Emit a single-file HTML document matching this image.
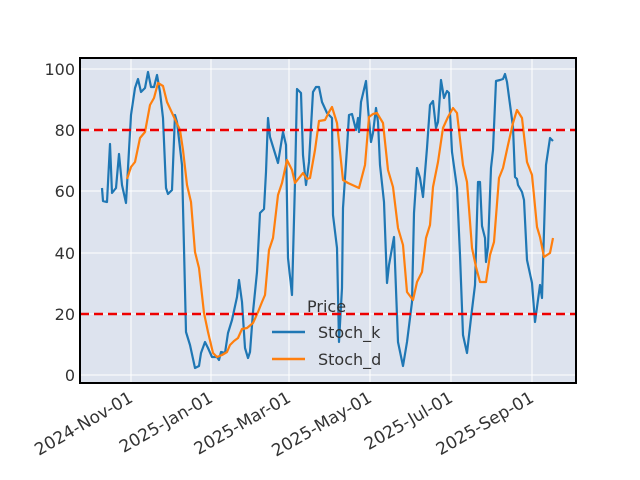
<!DOCTYPE html>
<html><head><meta charset="utf-8"><style>body{margin:0;background:#fff}svg{display:block}</style></head><body>
<svg width="640" height="480" xmlns="http://www.w3.org/2000/svg" font-family="DejaVu Sans, Liberation Sans, sans-serif">
<rect x="80" y="58" width="496" height="325" fill="#dde3ee"/>
<g stroke="#fff" stroke-width="1">
<line x1="80" x2="576" y1="375" y2="375"/><line x1="80" x2="576" y1="314" y2="314"/><line x1="80" x2="576" y1="253" y2="253"/><line x1="80" x2="576" y1="191" y2="191"/><line x1="80" x2="576" y1="130" y2="130"/><line x1="80" x2="576" y1="69" y2="69"/>
<line y1="58" y2="383" x1="131" x2="131"/><line y1="58" y2="383" x1="211" x2="211"/><line y1="58" y2="383" x1="289" x2="289"/><line y1="58" y2="383" x1="370" x2="370"/><line y1="58" y2="383" x1="451" x2="451"/><line y1="58" y2="383" x1="532" x2="532"/>
</g>
<polyline fill="none" stroke="#1f77b4" stroke-width="2.2" stroke-linejoin="round" points="102,188 103,201 107,202 110,144 112,193 116,188 119,154 122,185 126,203 131,115 135,88 138,79 141,92 145,88 148,72 151,87 154,87 157,75 160,92 163,118 166,188 168,194 172,190 175,115 177,122 182,165 186,332 190,345 195,368 199,366 201,353 205,342 208,348 212,357 217,357 219,360 221,352 225,353 228,333 232,320 237,297 239,280 242,302 245,348 248,358 250,352 253,312 257,272 260,213 264,209 266,172 268,118 270,137 278,163 283,132 286,145 288,258 292,295 295,182 297,89 301,93 303,155 306,185 309,162 313,92 316,87 319,87 322,102 327,113 332,118 333,215 337,248 339,342 342,288 343,208 347,148 349,115 352,114 356,130 358,118 359,132 361,102 366,81 368,108 371,142 373,133 376,108 378,122 380,165 384,202 387,283 389,265 394,237 398,342 403,366 407,342 412,302 414,213 417,168 420,178 423,197 427,148 430,105 433,101 436,128 438,122 441,80 444,98 447,91 449,93 452,152 457,188 460,255 463,335 467,353 471,318 475,285 478,182 480,182 482,226 485,238 486,262 488,247 491,168 493,150 496,81 500,80 503,79 505,74 507,82 513,127 515,177 517,179 518,185 522,192 524,200 527,260 532,283 535,322 540,285 542,298 546,165 550,138 553,141"/>
<polyline fill="none" stroke="#ff7f0e" stroke-width="2.2" stroke-linejoin="round" points="127,179 131,167 135,162 140,138 145,132 150,105 154,98 158,83 163,86 167,102 173,115 180,130 183,150 187,185 191,202 195,252 199,268 204,313 208,332 213,353 217,357 222,355 227,352 230,345 234,341 238,338 242,329 247,328 253,323 258,312 262,302 265,295 269,250 273,238 278,195 282,183 287,160 292,170 295,183 303,173 307,179 310,178 315,150 319,121 325,120 329,112 332,107 337,123 343,180 348,183 359,188 365,165 369,117 373,114 377,113 383,123 388,170 393,187 398,228 403,245 407,292 413,300 417,282 422,272 426,238 430,225 433,187 438,162 443,128 448,117 453,108 457,113 463,165 467,182 472,248 476,267 480,282 486,282 490,255 494,242 499,178 503,168 508,145 513,123 517,110 522,118 527,162 532,175 537,227 540,237 544,257 550,253 553,238"/>
<g stroke="#ee0000" stroke-width="2.5" stroke-dasharray="9,5"><line x1="80" x2="576" y1="130" y2="130"/><line x1="80" x2="576" y1="314" y2="314"/></g>
<rect x="80" y="58" width="496" height="325" fill="none" stroke="#000" stroke-width="2"/>
<g font-size="16" fill="#333" text-anchor="end">
<text x="75" y="381">0</text><text x="75" y="320">20</text><text x="75" y="259">40</text><text x="75" y="197">60</text><text x="75" y="136">80</text><text x="75" y="75">100</text>
</g>
<g font-size="17" fill="#333" text-anchor="end">
<text transform="translate(134,401) rotate(-30)">2024-Nov-01</text>
<text transform="translate(214,401) rotate(-30)">2025-Jan-01</text>
<text transform="translate(292,401) rotate(-30)">2025-Mar-01</text>
<text transform="translate(373,401) rotate(-30)">2025-May-01</text>
<text transform="translate(454,401) rotate(-30)">2025-Jul-01</text>
<text transform="translate(535,401) rotate(-30)">2025-Sep-01</text>
</g>
<g font-size="16" fill="#333">
<text x="307" y="312">Price</text>
<line x1="272" x2="305" y1="332" y2="332" stroke="#1f77b4" stroke-width="2.5"/><text x="318" y="338">Stoch_k</text>
<line x1="272" x2="305" y1="359" y2="359" stroke="#ff7f0e" stroke-width="2.5"/><text x="318" y="365">Stoch_d</text>
</g>
</svg>
</body></html>
